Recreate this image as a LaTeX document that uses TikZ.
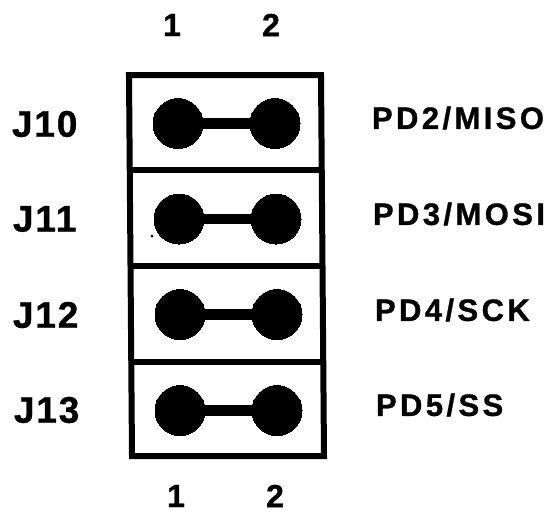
\documentclass[tikz,border=0pt]{standalone}
\usepackage{fontspec}
\setmainfont{Liberation Sans}
\newfontfamily\boldlabel[FakeBold=1,LetterSpace=5]{Liberation Sans Bold}
\newfontfamily\boldsignal[FakeBold=1,LetterSpace=11]{Liberation Sans Bold}
\usetikzlibrary{positioning}
\tikzset{
    pin/.style={draw, circle, fill=black, line width=0pt, inner sep=0pt, minimum size=50},
    bar/.style={line width=10.5pt},
    rowline/.style={line width=5.5pt},
    num/.style={inner sep=0pt, font=\boldlabel\fontsize{32}{32}\selectfont},
    lbl/.style={inner sep=0pt, anchor=west, font=\boldlabel\fontsize{37}{37}\selectfont},
    sig/.style={inner sep=0pt, anchor=west, font=\boldsignal\fontsize{31}{31}\selectfont},
}
\begin{document}
\begin{tikzpicture}[x=1pt,y=-1pt,line width=6pt]
            \useasboundingbox (0,0) rectangle (550,512);
            \coordinate (tl) at (129,75);
            \coordinate (tr) at (321,75);
            \coordinate (br) at (324,456);
            \coordinate (bl) at (132,456);
            \draw (tl) -- (tr) -- (br) -- (bl) -- cycle;
            \coordinate (ml) at (130,170);
            \coordinate (mr) at (322,170);
            \draw[rowline] (ml) -- (mr);
            \coordinate (nl) at (131,266);
            \coordinate (nr) at (323,266);
            \draw[rowline] (nl) -- (nr);
            \coordinate (ol) at (131,362);
            \coordinate (or) at (323,362);
            \draw[rowline] (ol) -- (or);

            \draw (178,123.5) node[pin]                   (a1) {};
            \draw (275,123.5) node[pin]                   (a2) {};
            \draw (179,219) node[pin]                   (b1) {};
            \draw (276,219) node[pin]                   (b2) {};
            \draw (180,314.5) node[pin]                   (c1) {};
            \draw (277,314.5) node[pin]                   (c2) {};
            \draw (180,410.5) node[pin]                   (d1) {};
            \draw (277,410.5) node[pin]                   (d2) {};
            \draw[bar] (a1) -- (a2);
            \draw[bar] (b1) -- (b2);
            \draw[bar] (c1) -- (c2);
            \draw[bar] (d1) -- (d2);
            \draw (152,236) node[circle, fill=black, inner sep=0pt, minimum size=3] (speck) {};

            \draw (172,25) node[num]                   (t1) {1};
            \draw (271,25) node[num]                   (t2) {2};
            \draw (176,496) node[num]                  (u1) {1};
            \draw (275,496) node[num]                  (u2) {2};

            \draw (9,124) node[lbl]                    (j10) {J10};
            \draw (10,219) node[lbl]                   (j11) {J11};
            \draw (10,315) node[lbl]                   (j12) {J12};
            \draw (11,410) node[lbl]                   (j13) {J13};

            \draw (369,118) node[sig]                  (miso) {PD2/MISO};
            \draw (370,214) node[sig]                  (mosi) {PD3/MOSI};
            \draw (372,310) node[sig]                  (sck) {PD4/SCK};
            \draw (373,405) node[sig]                  (ss) {PD5/SS};
            \end{tikzpicture}
\end{document}
